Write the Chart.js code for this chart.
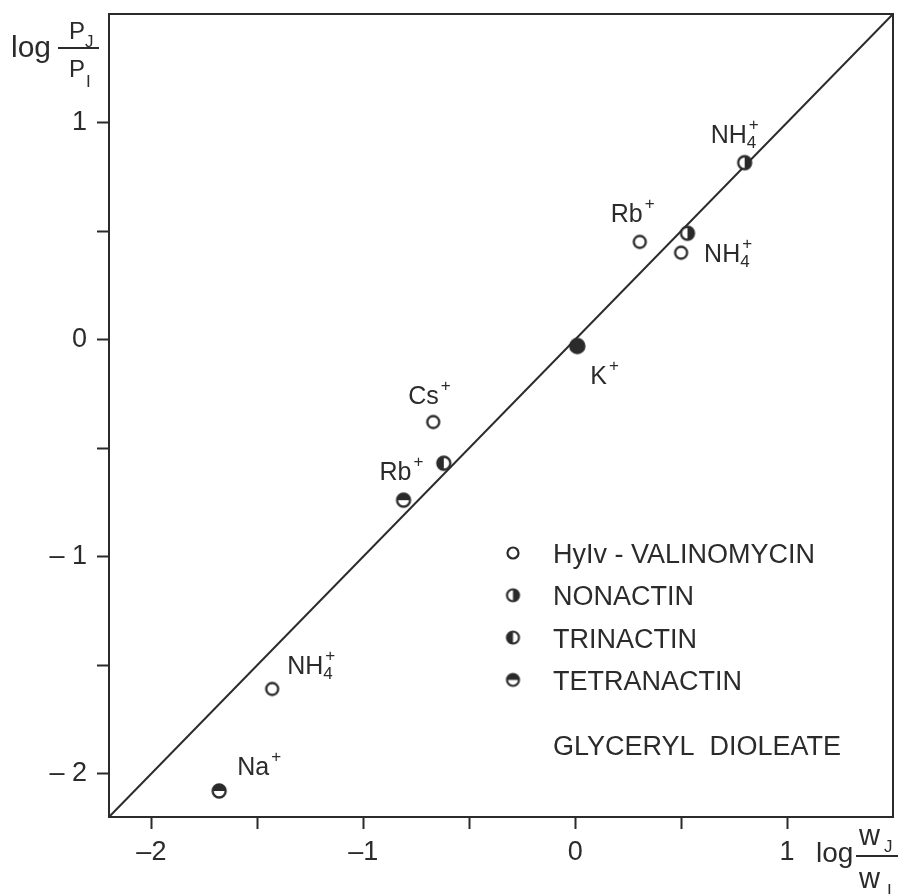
<!DOCTYPE html>
<html><head><meta charset="utf-8">
<script src="https://cdn.jsdelivr.net/npm/chart.js@4"></script>
<style>html,body{margin:0;padding:0;background:#fff}canvas{display:block}</style>
</head><body>
<canvas id="c" width="898" height="894" style="width:898px;height:894px"></canvas>
<script>
const FONT = '"Liberation Sans", Arial, sans-serif';
const INK = '#2b2b2b';

// log(wJ/wI) against log(PJ/PI) for each carrier
const valinomycinX = [0.305, 0.50, -0.67, -1.43];
const valinomycinY = [0.45, 0.40, -0.38, -1.61];
const nonactinX = [0.80, 0.53];
const nonactinY = [0.815, 0.49];
const trinactinX = [-0.62];
const trinactinY = [-0.57];
const tetranactinX = [-0.81, -1.68];
const tetranactinY = [-0.74, -2.08];
const potassiumX = [0.01];
const potassiumY = [-0.03];
const identityX = [-2.2, 1.5];
const identityY = [-2.2, 1.5];

const carrierNames = ['HyIv - VALINOMYCIN', 'NONACTIN', 'TRINACTIN', 'TETRANACTIN'];
const lipidName = 'GLYCERYL  DIOLEATE';
const xTickLabels = {'-2': '–2', '-1': '–1', '0': '0', '1': '1'};
const yTickLabels = {'-2': '– 2', '-1': '– 1', '0': '0', '1': '1'};

// ion labels: dataset, point within it, symbol, subscript
const ionSeries = [1, 0, 0, 4, 0, 3, 0, 3];
const ionPoint  = [0, 0, 1, 0, 2, 0, 3, 1];
const ionSymbol = ['NH', 'Rb', 'NH', 'K', 'Cs', 'Rb', 'NH', 'Na'];
const ionSub    = ['4', '', '4', '', '', '', '4', ''];
// label placement relative to its marker (px): left edge, baseline
const ionOffset = [[-34, -20], [-29, -20], [23, 9], [13, 38], [-25, -18], [-24, -20], [15, -15], [18, -16]];

const pts = (xs, ys) => xs.map((x, i) => ({x, y: ys[i]}));

// circle markers with a filled part
function marker(kind, r, lw) {
  const s = Math.ceil(2 * r + lw + 2);
  const cv = document.createElement('canvas');
  cv.width = s; cv.height = s;
  const g = cv.getContext('2d');
  const c = s / 2;
  g.beginPath(); g.arc(c, c, r, 0, Math.PI * 2);
  g.fillStyle = kind === 'full' ? INK : '#fff';
  g.fill();
  if (kind !== 'open' && kind !== 'full') {
    g.save();
    g.beginPath();
    if (kind === 'right') g.rect(c, 0, s, s);
    if (kind === 'left') g.rect(0, 0, c, s);
    if (kind === 'top') g.rect(0, 0, s, c);
    g.clip();
    g.beginPath(); g.arc(c, c, r, 0, Math.PI * 2);
    g.fillStyle = INK; g.fill();
    g.restore();
  }
  g.beginPath(); g.arc(c, c, r, 0, Math.PI * 2);
  g.lineWidth = lw; g.strokeStyle = INK; g.stroke();
  return cv;
}

const mOpen = marker('open', 6, 2.3);
const mRight = marker('right', 6.5, 2.3);
const mLeft = marker('left', 6.5, 2.3);
const mTop = marker('top', 6.5, 2.3);
const mFull = marker('full', 7.5, 1.5);
const legendMarks = [marker('open', 5.5, 2.2), marker('right', 6, 2.2), marker('left', 6, 2.2), marker('top', 6, 2.2)];

const framePlugin = {
  id: 'frame',
  afterDatasetsDraw(chart) {
    const {ctx, chartArea: a} = chart;
    ctx.save();
    ctx.strokeStyle = INK; ctx.lineWidth = 2;
    ctx.strokeRect(a.left, a.top, a.right - a.left, a.bottom - a.top);
    ctx.restore();
  }
};

const ionPlugin = {
  id: 'ions',
  afterDatasetsDraw(chart) {
    const {ctx} = chart;
    ctx.save();
    ctx.fillStyle = INK;
    ctx.textBaseline = 'alphabetic';
    ionSymbol.forEach((sym, i) => {
      const el = chart.getDatasetMeta(ionSeries[i]).data[ionPoint[i]];
      const x = el.x + ionOffset[i][0];
      const y = el.y + ionOffset[i][1];
      ctx.font = '25px ' + FONT;
      ctx.fillText(sym, x, y);
      const w = ctx.measureText(sym).width;
      ctx.font = '17px ' + FONT;
      if (ionSub[i]) ctx.fillText(ionSub[i], x + w, y + 5);
      ctx.fillText('+', x + w + 2, y - 13);
    });
    ctx.restore();
  }
};

const legendPlugin = {
  id: 'carrierLegend',
  afterDatasetsDraw(chart) {
    const {ctx, chartArea: a} = chart;
    ctx.save();
    ctx.fillStyle = INK;
    ctx.font = '27px ' + FONT;
    ctx.textBaseline = 'alphabetic';
    const ix = a.left + 404, tx = a.left + 444;
    carrierNames.forEach((name, i) => {
      const cy = a.top + 539 + i * 42.3;
      const m = legendMarks[i];
      ctx.drawImage(m, ix - m.width / 2, cy - m.height / 2);
      ctx.fillText(name, tx, cy + 10);
    });
    ctx.fillText(lipidName, tx, a.top + 741);
    ctx.restore();
  }
};

const titlePlugin = {
  id: 'axisTitles',
  afterDraw(chart) {
    const {ctx} = chart;
    ctx.save();
    ctx.fillStyle = INK; ctx.strokeStyle = INK; ctx.lineWidth = 2;
    ctx.textBaseline = 'alphabetic';
    // y title
    ctx.font = '30px ' + FONT;
    ctx.fillText('log', 11, 57);
    ctx.beginPath(); ctx.moveTo(58, 48); ctx.lineTo(99, 48); ctx.stroke();
    ctx.font = '24px ' + FONT;
    ctx.fillText('P', 69, 39);
    ctx.fillText('P', 69, 77);
    ctx.font = '17px ' + FONT;
    ctx.fillText('J', 85, 47);
    ctx.fillText('I', 86, 87);
    // x title
    ctx.font = '28px ' + FONT;
    ctx.fillText('log', 816, 862);
    ctx.beginPath(); ctx.moveTo(856, 856); ctx.lineTo(898, 856); ctx.stroke();
    ctx.font = '29px ' + FONT;
    ctx.fillText('w', 859, 845);
    ctx.fillText('w', 859, 888);
    ctx.font = '17px ' + FONT;
    ctx.fillText('J', 884, 852);
    ctx.fillText('I', 887, 896);
    ctx.restore();
  }
};

const tickFont = {family: FONT, size: 27};
const grid = {display: true, drawOnChartArea: false, drawTicks: true, tickLength: 12, tickColor: INK, tickWidth: 2, color: INK};
const keepTicks = s => { s.ticks = s.ticks.filter(t => t.value >= -2.001 && t.value <= 1.001); };

new Chart(document.getElementById('c'), {
  type: 'scatter',
  data: {
    datasets: [
      {label: carrierNames[0], data: pts(valinomycinX, valinomycinY), pointStyle: mOpen, order: 1},
      {label: carrierNames[1], data: pts(nonactinX, nonactinY), pointStyle: mRight, order: 1},
      {label: carrierNames[2], data: pts(trinactinX, trinactinY), pointStyle: mLeft, order: 1},
      {label: carrierNames[3], data: pts(tetranactinX, tetranactinY), pointStyle: mTop, order: 1},
      {label: 'K+', data: pts(potassiumX, potassiumY), pointStyle: mFull, order: 1},
      {type: 'line', label: 'identity', data: pts(identityX, identityY), showLine: true, pointRadius: 0,
       borderColor: INK, borderWidth: 2, fill: false, order: 5}
    ]
  },
  options: {
    responsive: false,
    animation: false,
    layout: {padding: {top: 14, right: 4, left: 0, bottom: 0}},
    plugins: {legend: {display: false}, tooltip: {enabled: false}},
    scales: {
      x: {
        type: 'linear', min: -2.2, max: 1.5,
        afterFit(s) { s.height = 77; s.paddingLeft = 0; s.paddingRight = 0; },
        afterBuildTicks: keepTicks,
        ticks: {stepSize: 0.5, includeBounds: false, autoSkip: false, maxRotation: 0, padding: 7,
                color: INK, font: tickFont, callback: v => xTickLabels[String(v)] || ''},
        grid, border: {display: false}
      },
      y: {
        type: 'linear', min: -2.2, max: 1.5,
        afterFit(s) { s.width = 109; s.paddingTop = 0; s.paddingBottom = 0; },
        afterBuildTicks: keepTicks,
        ticks: {stepSize: 0.5, includeBounds: false, autoSkip: false, padding: 10,
                color: INK, font: tickFont, callback: v => yTickLabels[String(v)] || ''},
        grid, border: {display: false}
      }
    }
  },
  plugins: [framePlugin, ionPlugin, legendPlugin, titlePlugin]
});
</script>
</body></html>
